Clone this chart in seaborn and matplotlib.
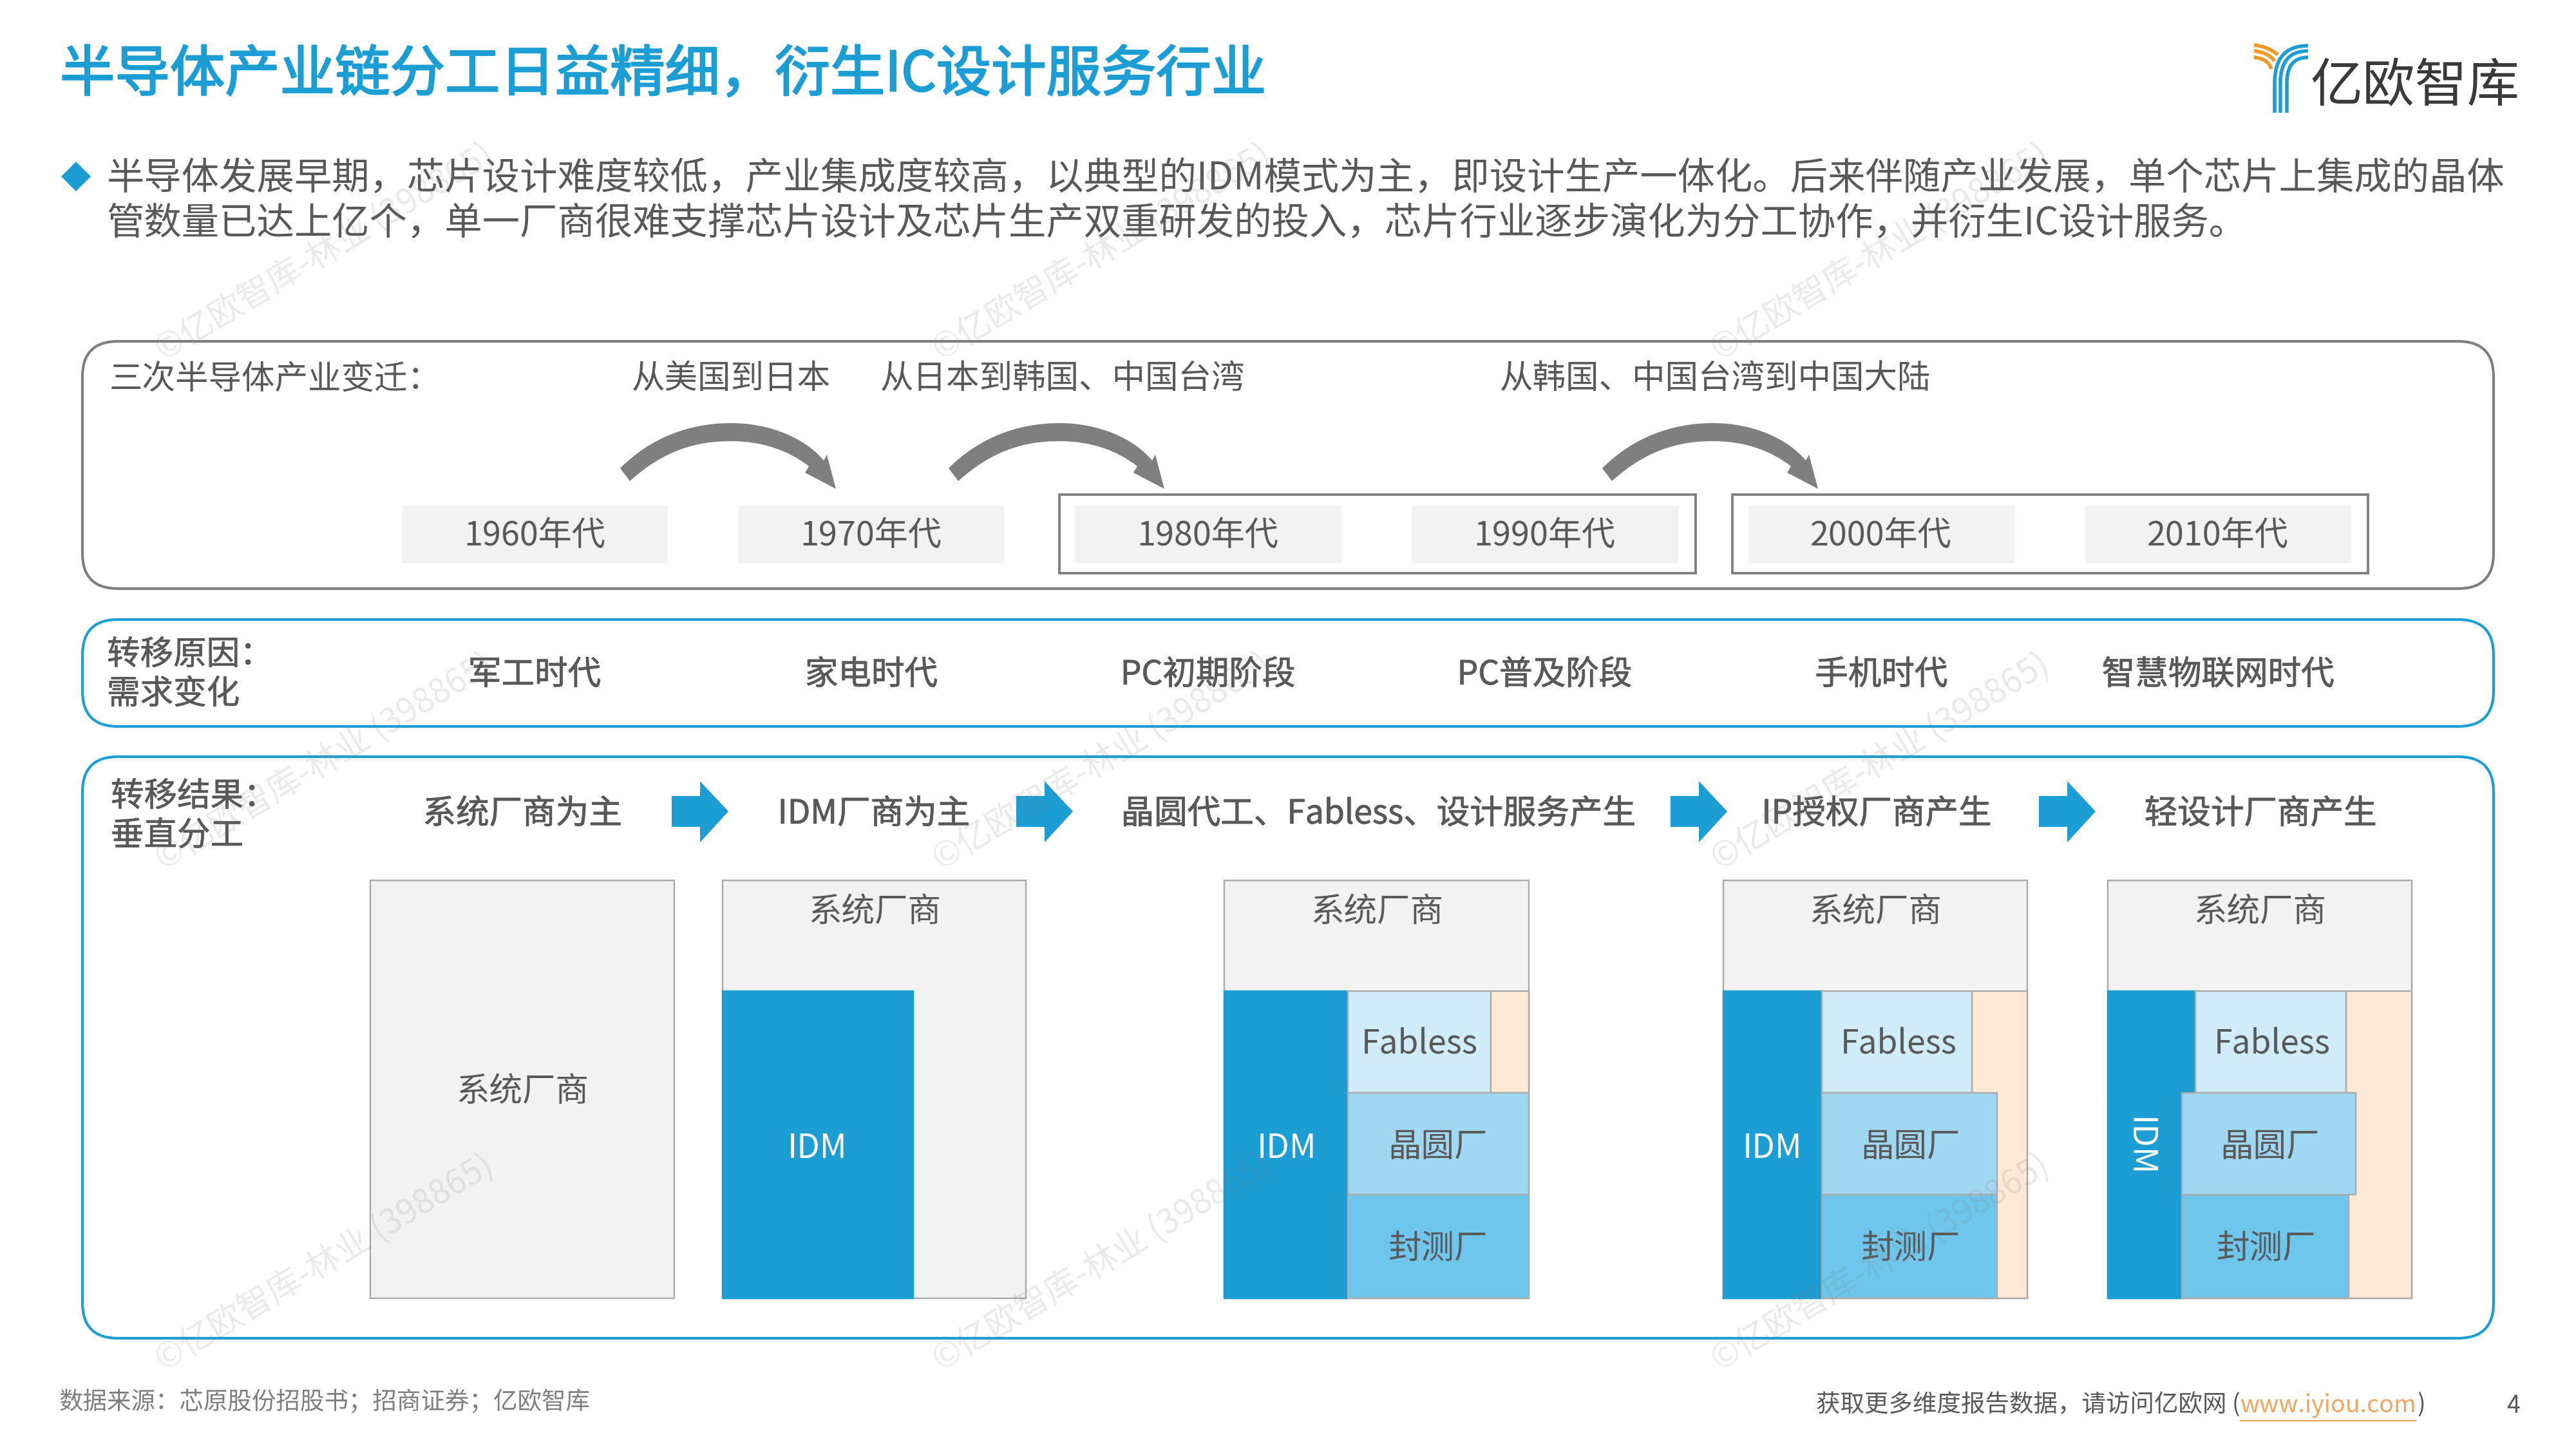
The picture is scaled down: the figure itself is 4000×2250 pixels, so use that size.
import numpy as np
import pandas as pd
import matplotlib
matplotlib.use('Agg')
import matplotlib.pyplot as plt
import matplotlib.patheffects as pe
import seaborn as sns
from matplotlib.patches import FancyBboxPatch, PathPatch, Polygon, Rectangle
from matplotlib.path import Path

sns.set_theme(style='white')
plt.rcParams['font.family'] = ['Noto Sans CJK SC', 'DejaVu Sans']

# text content
title = '半导体产业链分工日益精细，衍生IC设计服务行业'
intro = ['半导体发展早期，芯片设计难度较低，产业集成度较高，以典型的IDM模式为主，即设计生产一体化。后来伴随产业发展，单个芯片上集成的晶体',
         '管数量已达上亿个，单一厂商很难支撑芯片设计及芯片生产双重研发的投入，芯片行业逐步演化为分工协作，并衍生IC设计服务。']
decades = ['1960年代', '1970年代', '1980年代', '1990年代', '2000年代', '2010年代']
eras = ['军工时代', '家电时代', 'PC初期阶段', 'PC普及阶段', '手机时代', '智慧物联网时代']
shifts = ['从美国到日本', '从日本到韩国、中国台湾', '从韩国、中国台湾到中国大陆']
results = ['系统厂商为主', 'IDM厂商为主', '晶圆代工、Fabless、设计服务产生', 'IP授权厂商产生', '轻设计厂商产生']
source = '数据来源：芯原股份招股书；招商证券；亿欧智库'
footer = '获取更多维度报告数据，请访问亿欧网 ('
url = 'www.iyiou.com'
watermark = '©亿欧智库-林业 (398865)'

# colours
BLUE = '#1C9DD3'
GREY = '#7F7F7F'
TEXT = '#595959'
LIGHT = '#F2F2F2'
FABLESS = '#D0ECF8'
WAFER = '#A0D8F3'
PACKAGE = '#6EC6EC'
PEACH = '#FDE9D5'
EDGE = '#ABABAB'
ORANGE = '#F39A26'

fig = plt.figure(figsize=(16, 9), dpi=250)
ax = fig.add_axes([0, 0, 1, 1])


def put(x, y, s, size=15, color=TEXT, ha='center', stroke=0, **kw):
    t = ax.text(x, y + 5, s, fontsize=size, color=color, ha=ha, va='center', zorder=6, **kw)
    if stroke:
        t.set_path_effects([pe.withStroke(linewidth=stroke, foreground=color)])


def round_box(x0, y0, x1, y1, color, r=55):
    ax.add_patch(FancyBboxPatch((x0 + r, y0 + r), x1 - x0 - 2 * r, y1 - y0 - 2 * r,
                                boxstyle=f'round,pad={r},rounding_size={r}',
                                fc='white', ec=color, lw=1.2, zorder=1))


def curved_arrow(dx):
    # thick grey arc with a head on its right end
    verts = [(963, 727), (1010, 680), (1070, 657), (1135, 657), (1195, 657), (1250, 680), (1279, 715),
             (1284, 706), (1298, 759), (1250, 734), (1256, 724),
             (1225, 700), (1185, 685), (1135, 685), (1080, 685), (1030, 700), (978, 747), (963, 727)]
    codes = [Path.MOVETO, Path.CURVE4, Path.CURVE4, Path.CURVE4, Path.CURVE4, Path.CURVE4, Path.CURVE4,
             Path.LINETO, Path.LINETO, Path.LINETO, Path.LINETO,
             Path.CURVE4, Path.CURVE4, Path.CURVE4, Path.CURVE4, Path.CURVE4, Path.CURVE4, Path.CLOSEPOLY]
    verts = [(x + dx, y) for x, y in verts]
    ax.add_patch(PathPatch(Path(verts, codes), fc=GREY, ec='none', zorder=3))


def block_arrow(x):
    pts = [(x, 1236), (x + 44, 1236), (x + 44, 1213), (x + 88, 1260),
           (x + 44, 1308), (x + 44, 1284), (x, 1284)]
    ax.add_patch(Polygon(pts, fc=BLUE, ec='none', zorder=3))


def block(x0, x1, y0, y1, color, edge=EDGE):
    ax.bar(x0, y1 - y0, width=x1 - x0, bottom=y0, align='edge', color=color,
           edgecolor=edge, linewidth=0.7, zorder=3)


def strand(p0, p1, p2, color):
    ax.add_patch(PathPatch(Path([p0, p1, p2], [Path.MOVETO, Path.CURVE3, Path.CURVE3]),
                           fc='none', ec=color, lw=1.6, capstyle='butt', zorder=6))


# decade boxes, six evenly spaced columns
centers = 830 + 522.8 * np.arange(6)
decade_df = pd.DataFrame({'x': centers, 'h': [93] * 6})
sns.barplot(data=decade_df, x='x', y='h', native_scale=True, bottom=783, width=0.797,
            color=LIGHT, saturation=1, errorbar=None, ax=ax, zorder=3)

# header
put(93, 112, title, size=24.6, color=BLUE, ha='left', stroke=0.7)
ax.add_patch(Polygon([(118, 251), (141, 274), (118, 297), (95, 274)], fc=BLUE, ec='none'))
put(166, 273, intro[0], size=16.8, ha='left')
put(166, 343, intro[1], size=16.8, ha='left')

# top panel: decades and the three industry shifts
round_box(128, 530, 3872, 914, GREY)
put(170, 585, '三次半导体产业变迁：', ha='left', size=14.85)
put(1135, 583, shifts[0], size=14.85)
put(1367, 583, shifts[1], ha='left', size=14.85)
put(2329, 583, shifts[2], ha='left', size=14.85)
for dx in [0, 510, 1525]:
    curved_arrow(dx)
for x0, x1 in [(1645, 2633), (2690, 3677)]:
    ax.add_patch(Rectangle((x0, 768), x1 - x0, 122, fc='none', ec=GREY, lw=1.1, zorder=4))
for x, s in zip(centers, decades):
    put(x, 827, s)

# middle panel
round_box(128, 962, 3872, 1128, BLUE)
put(166, 1012, '转移原因：', ha='left', size=14.85, stroke=0.2)
put(166, 1073, '需求变化', ha='left', size=14.85, stroke=0.2)
for x, s in zip(centers, eras):
    put(x, 1043, s, size=14.85, stroke=0.25)

# bottom panel
round_box(128, 1175, 3872, 2078, BLUE)
put(172, 1232, '转移结果：', ha='left', size=14.85, stroke=0.2)
put(172, 1293, '垂直分工', ha='left', size=14.85, stroke=0.2)
for x, s in zip([811, 1357, 2140, 2914, 3510], results):
    put(x, 1259, s, size=14.85, stroke=0.25)
for x in [1043, 1578, 2594, 3166]:
    block_arrow(x)

TOP, S1, S2, S3, BOT = 1367, 1539, 1697, 1855, 2016

# stack 1
block(575, 1047, TOP, BOT, LIGHT)
put(811, 1690, '系统厂商', size=14.85)

# stack 2
block(1122, 1593, TOP, BOT, LIGHT)
block(1122, 1418, S1, BOT, BLUE, edge=BLUE)
put(1358, 1411, '系统厂商', size=14.85)
put(1269, 1778, 'IDM', color='white', size=14.85)

# stack 3
block(1901, 2374, TOP, BOT, LIGHT)
block(1901, 2093, S1, BOT, BLUE, edge=BLUE)
block(2093, 2315, S1, S2, FABLESS)
block(2315, 2374, S1, S2, PEACH)
block(2093, 2374, S2, S3, WAFER)
block(2093, 2374, S3, BOT, PACKAGE)
put(2138, 1411, '系统厂商', size=14.85)
put(1998, 1778, 'IDM', color='white', size=14.85)
put(2204, 1617, 'Fabless', size=14.85)
put(2232, 1776, '晶圆厂', size=14.85)
put(2232, 1934, '封测厂', size=14.85)

# stack 4
block(2676, 3148, TOP, BOT, LIGHT)
block(3062, 3148, S1, BOT, PEACH)
block(2676, 2829, S1, BOT, BLUE, edge=BLUE)
block(2829, 3062, S1, S2, FABLESS)
block(2829, 3101, S2, S3, WAFER)
block(2829, 3101, S3, BOT, PACKAGE)
put(2912, 1411, '系统厂商', size=14.85)
put(2752, 1778, 'IDM', color='white', size=14.85)
put(2948, 1617, 'Fabless', size=14.85)
put(2966, 1776, '晶圆厂', size=14.85)
put(2966, 1934, '封测厂', size=14.85)

# stack 5
block(3273, 3745, TOP, BOT, LIGHT)
block(3643, 3745, S1, BOT, PEACH)
block(3273, 3409, S1, S2, BLUE, edge=BLUE)
block(3273, 3388, S2, BOT, BLUE, edge=BLUE)
block(3409, 3643, S1, S2, FABLESS)
block(3388, 3647, S3, BOT, PACKAGE)
block(3388, 3658, S2, S3, WAFER)
put(3509, 1411, '系统厂商', size=14.85)
put(3322, 1776, 'IDM', color='white', size=14.85, rotation=-90)
put(3528, 1617, 'Fabless', size=14.85)
put(3525, 1776, '晶圆厂', size=14.85)
put(3518, 1934, '封测厂', size=14.85)

# footer
put(92, 2172, source, size=10.8, color=GREY, ha='left')
put(2820, 2177, footer, size=10.8, ha='left')
put(3479, 2177, url, size=10.8, color='#F0A860', ha='left')
ax.plot([3479, 3751], [2206, 2206], color='#F0A860', lw=0.7, zorder=6)
put(3753, 2177, ')', size=10.8, ha='left')
put(3903, 2178, '4', size=10.8)

# logo: orange and blue strands of the Y plus the wordmark
for y0, end in [(70, (3537, 85)), (79, (3532, 95)), (89, (3527, 107))]:
    strand((3500, y0), (3522, y0 + 2), end, ORANGE)
for x, y0 in [(3532, 71), (3541, 79), (3551, 89)]:
    strand((3584, y0), (x, y0), (x, 128), BLUE)
    ax.plot([x, x], [128, 175], color=BLUE, lw=1.6, solid_capstyle='butt', zorder=6)
put(3750, 130, '亿欧智库', size=23.4, color='#3A3A3A')

# watermarks, same tilt across a 3 by 3 grid
for x in [247, 1454, 2663]:
    for y in [548, 1339, 2117]:
        ax.text(x, y, watermark, fontsize=15.2, color='#808080', alpha=0.17, rotation=31,
                rotation_mode='anchor', ha='left', va='center', zorder=7)

ax.set_xlim(0, 4000)
ax.set_ylim(2250, 0)
ax.axis('off')

fig.savefig('out.png', dpi=250)
